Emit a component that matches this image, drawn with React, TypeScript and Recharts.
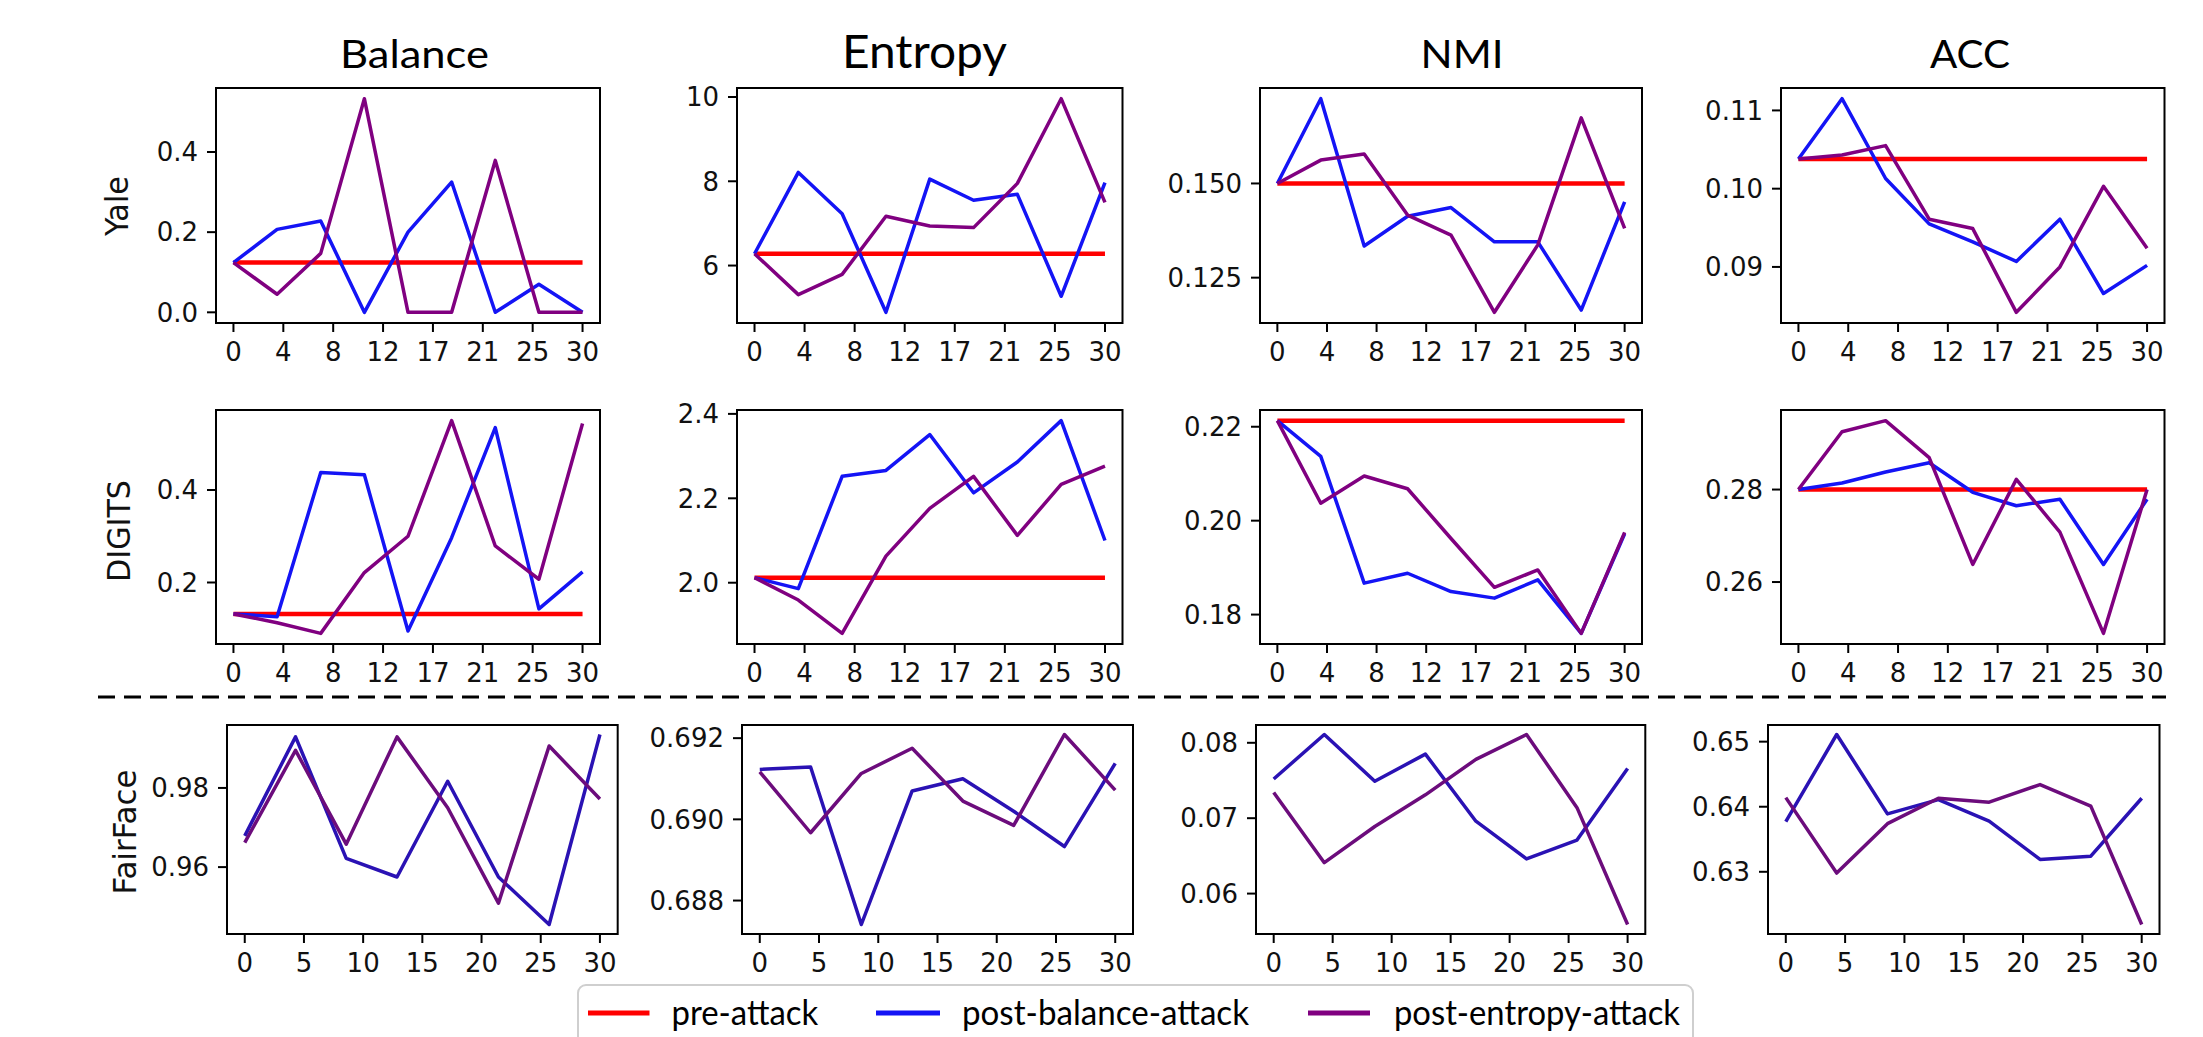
import { Line, LineChart, ReferenceArea, XAxis, YAxis } from 'recharts'

// epochs: rows 1-2 have 9 checkpoints, FairFace has 8
const epochs9 = [0, 3.75, 7.5, 11.25, 15, 18.75, 22.5, 26.25, 30]
const epochs8 = [0, 4.29, 8.57, 12.86, 17.14, 21.43, 25.71, 30]

const xTicks9 = [0, 4.2857, 8.5714, 12.857, 17.143, 21.429, 25.714, 30]
const xLabels9 = ['0', '4', '8', '12', '17', '21', '25', '30']
const xTicks8 = [0, 5, 10, 15, 20, 25, 30]
const xLabels8 = ['0', '5', '10', '15', '20', '25', '30']

const columns = ['Balance', 'Entropy', 'NMI', 'ACC']
const rowNames = ['Yale', 'DIGITS', 'FairFace']
const legendLabels = ['pre-attack', 'post-balance-attack', 'post-entropy-attack']

// Yale
const yaleBalancePre = [0.124, 0.124, 0.124, 0.124, 0.124, 0.124, 0.124, 0.124, 0.124]
const yaleBalanceBal = [0.124, 0.207, 0.228, 0.0, 0.2, 0.325, 0.0, 0.07, 0.0]
const yaleBalanceEnt = [0.124, 0.045, 0.147, 0.533, 0.0, 0.0, 0.379, 0.0, 0.0]
const yaleEntropyPre = [6.28, 6.28, 6.28, 6.28, 6.28, 6.28, 6.28, 6.28, 6.28]
const yaleEntropyBal = [6.28, 8.21, 7.23, 4.89, 8.05, 7.55, 7.69, 5.27, 7.97]
const yaleEntropyEnt = [6.28, 5.31, 5.79, 7.17, 6.94, 6.9, 7.95, 9.96, 7.5]
const yaleNmiPre = [0.15, 0.15, 0.15, 0.15, 0.15, 0.15, 0.15, 0.15, 0.15]
const yaleNmiBal = [0.15, 0.1725, 0.1334, 0.1413, 0.1436, 0.1345, 0.1345, 0.1164, 0.1451]
const yaleNmiEnt = [0.15, 0.1562, 0.1578, 0.1416, 0.1363, 0.1158, 0.1337, 0.1674, 0.1381]
const yaleAccPre = [0.1038, 0.1038, 0.1038, 0.1038, 0.1038, 0.1038, 0.1038, 0.1038, 0.1038]
const yaleAccBal = [0.1038, 0.1115, 0.1013, 0.0955, 0.0932, 0.0907, 0.0961, 0.0866, 0.0902]
const yaleAccEnt = [0.1038, 0.1043, 0.1055, 0.0961, 0.0949, 0.0842, 0.09, 0.1003, 0.0924]

// DIGITS
const digitsBalancePre = [0.132, 0.132, 0.132, 0.132, 0.132, 0.132, 0.132, 0.132, 0.132]
const digitsBalanceBal = [0.132, 0.126, 0.438, 0.433, 0.095, 0.297, 0.535, 0.143, 0.223]
const digitsBalanceEnt = [0.132, 0.113, 0.09, 0.2215, 0.3, 0.55, 0.279, 0.207, 0.544]
const digitsEntropyPre = [2.012, 2.012, 2.012, 2.012, 2.012, 2.012, 2.012, 2.012, 2.012]
const digitsEntropyBal = [2.012, 1.986, 2.252, 2.266, 2.351, 2.213, 2.286, 2.384, 2.1]
const digitsEntropyEnt = [2.012, 1.959, 1.88, 2.063, 2.176, 2.252, 2.112, 2.233, 2.276]
const digitsNmiPre = [0.2213, 0.2213, 0.2213, 0.2213, 0.2213, 0.2213, 0.2213, 0.2213, 0.2213]
const digitsNmiBal = [0.2213, 0.2137, 0.1867, 0.1888, 0.1849, 0.1835, 0.1874, 0.176, 0.1972]
const digitsNmiEnt = [0.2213, 0.2037, 0.2095, 0.2068, 0.1962, 0.1858, 0.1895, 0.176, 0.1975]
const digitsAccPre = [0.28, 0.28, 0.28, 0.28, 0.28, 0.28, 0.28, 0.28, 0.28]
const digitsAccBal = [0.28, 0.2814, 0.2838, 0.2858, 0.2794, 0.2765, 0.2779, 0.2638, 0.2779]
const digitsAccEnt = [0.28, 0.2925, 0.2949, 0.2869, 0.2638, 0.2822, 0.2708, 0.2489, 0.28]

// FairFace (no pre-attack line)
const fairBalanceBal = [0.9679, 0.9929, 0.9622, 0.9575, 0.9817, 0.9575, 0.9455, 0.9935]
const fairBalanceEnt = [0.9662, 0.9895, 0.9658, 0.9929, 0.975, 0.9509, 0.9906, 0.9772]
const fairEntropyBal = [0.69123, 0.69129, 0.68741, 0.6907, 0.691, 0.6902, 0.68933, 0.69138]
const fairEntropyEnt = [0.69117, 0.68967, 0.69113, 0.69175, 0.69045, 0.68985, 0.69209, 0.69072]
const fairNmiBal = [0.0752, 0.0811, 0.0749, 0.0785, 0.0696, 0.0646, 0.0671, 0.0766]
const fairNmiEnt = [0.0734, 0.0641, 0.0689, 0.0731, 0.0778, 0.0811, 0.0714, 0.0559]
const fairAccBal = [0.6377, 0.6511, 0.6389, 0.6411, 0.6378, 0.6319, 0.6324, 0.6413]
const fairAccEnt = [0.6414, 0.6298, 0.6374, 0.6413, 0.6407, 0.6434, 0.6401, 0.6219]

// y ticks
const yTicks = [
  [[0, 0.2, 0.4], [6, 8, 10], [0.125, 0.15], [0.09, 0.1, 0.11]],
  [[0.2, 0.4], [2.0, 2.2, 2.4], [0.18, 0.2, 0.22], [0.26, 0.28]],
  [[0.96, 0.98], [0.688, 0.69, 0.692], [0.06, 0.07, 0.08], [0.63, 0.64, 0.65]],
]
const yLabels = [
  [['0.0', '0.2', '0.4'], ['6', '8', '10'], ['0.125', '0.150'], ['0.09', '0.10', '0.11']],
  [['0.2', '0.4'], ['2.0', '2.2', '2.4'], ['0.18', '0.20', '0.22'], ['0.26', '0.28']],
  [['0.96', '0.98'], ['0.688', '0.690', '0.692'], ['0.06', '0.07', '0.08'], ['0.63', '0.64', '0.65']],
]

const series = [
  [
    [yaleBalancePre, yaleBalanceBal, yaleBalanceEnt],
    [yaleEntropyPre, yaleEntropyBal, yaleEntropyEnt],
    [yaleNmiPre, yaleNmiBal, yaleNmiEnt],
    [yaleAccPre, yaleAccBal, yaleAccEnt],
  ],
  [
    [digitsBalancePre, digitsBalanceBal, digitsBalanceEnt],
    [digitsEntropyPre, digitsEntropyBal, digitsEntropyEnt],
    [digitsNmiPre, digitsNmiBal, digitsNmiEnt],
    [digitsAccPre, digitsAccBal, digitsAccEnt],
  ],
  [
    [null, fairBalanceBal, fairBalanceEnt],
    [null, fairEntropyBal, fairEntropyEnt],
    [null, fairNmiBal, fairNmiEnt],
    [null, fairAccBal, fairAccEnt],
  ],
]

// layout (page pixels)
const colBoxes = [
  [[216, 600], [737, 1122.5], [1260, 1642], [1780.5, 2164]],
  [[216, 600], [737, 1122.5], [1260, 1642], [1780.5, 2164]],
  [[226.6, 617.3], [741.7, 1132.7], [1255.7, 1645], [1767.8, 2159.3]],
]
const rowBoxes = [[88, 323], [409.5, 643.5], [725, 934]]

const RED = '#ff0000'
const BLUE = '#1414f5'
const PURPLE = '#800080'
const BLUE_DARK = '#2a12b4'
const PURPLE_DARK = '#6c0c7c'

const YW = 110
const XH = 60
const PAD = 18
const X_DOMAIN = [-1.5, 31.5]
const tickFont = { fill: '#111', fontSize: 26, fontFamily: 'DejaVu Sans' }

function Panel({
  x0, x1, y0, y1, xs, xTicks, xLabels, ticks, labels, pre, bal, ent, blue, purple,
}: {
  x0: number; x1: number; y0: number; y1: number
  xs: number[]; xTicks: number[]; xLabels: string[]
  ticks: number[]; labels: string[]
  pre: number[] | null; bal: number[]; ent: number[]
  blue: string; purple: string
}) {
  const w = x1 - x0
  const h = y1 - y0
  const data = xs.map((x, i) => ({ x, pre: pre ? pre[i] : undefined, bal: bal[i], ent: ent[i] }))
  const all = [...(pre ?? []), ...bal, ...ent]
  const lo = Math.min(...all)
  const hi = Math.max(...all)
  const m = (hi - lo) * 0.05
  const domain = [lo - m, hi + m]

  return (
    <div style={{ position: 'absolute', left: x0 - YW, top: y0 - PAD }}>
      <LineChart
        width={w + YW + PAD}
        height={h + PAD + XH}
        data={data}
        margin={{ top: PAD, right: PAD, left: 0, bottom: 0 }}
      >
        <XAxis
          dataKey="x"
          type="number"
          domain={X_DOMAIN}
          ticks={xTicks}
          interval={0}
          tickFormatter={(_v, i) => xLabels[i]}
          height={XH}
          tickSize={9}
          tickMargin={11}
          stroke="#000"
          strokeWidth={2}
          tick={tickFont}
        />
        <YAxis
          type="number"
          domain={domain}
          ticks={ticks}
          interval={0}
          tickFormatter={(_v, i) => labels[i]}
          width={YW}
          tickSize={9}
          tickMargin={9}
          stroke="#000"
          strokeWidth={2}
          tick={tickFont}
        />
        {/* axes frame (top/right spines) */}
        <ReferenceArea
          x1={X_DOMAIN[0]}
          x2={X_DOMAIN[1]}
          y1={domain[0]}
          y2={domain[1]}
          fill="none"
          fillOpacity={0}
          stroke="#000"
          strokeWidth={2}
          ifOverflow="visible"
        />
        {pre && (
          <Line dataKey="pre" stroke={RED} strokeWidth={4.5} dot={false} isAnimationActive={false} />
        )}
        <Line dataKey="bal" stroke={blue} strokeWidth={3.5} strokeLinejoin="round" dot={false} isAnimationActive={false} />
        <Line dataKey="ent" stroke={purple} strokeWidth={3.5} strokeLinejoin="round" dot={false} isAnimationActive={false} />
      </LineChart>
    </div>
  )
}

const titleSpecs = [
  { x: 340, len: 149, size: 39 },
  { x: 842, len: 165, size: 46 },
  { x: 1420.6, len: 83, size: 39 },
  { x: 1930, len: 80, size: 39 },
]
const rowLabelSpecs = [
  { cx: 117, cy: 206, len: 60 },
  { cx: 119, cy: 531, len: 102 },
  { cx: 125, cy: 832, len: 125 },
]
const legendSpecs = [
  { lx: 588, lx2: 649.5, tx: 671.5, len: 146.7, color: RED },
  { lx: 876, lx2: 940, tx: 962, len: 287, color: BLUE },
  { lx: 1308, lx2: 1370, tx: 1394, len: 286, color: PURPLE },
]

export default function App() {
  return (
    <div style={{ position: 'absolute', left: 0, top: 0, width: 2203, height: 1037, background: '#fff', overflow: 'hidden' }}>
      {rowBoxes.map(([y0, y1], r) =>
        colBoxes[r].map(([x0, x1], c) => {
          const [pre, bal, ent] = series[r][c]
          const last = r === 2
          return (
            <Panel
              key={`${r}-${c}`}
              x0={x0}
              x1={x1}
              y0={y0}
              y1={y1}
              xs={last ? epochs8 : epochs9}
              xTicks={last ? xTicks8 : xTicks9}
              xLabels={last ? xLabels8 : xLabels9}
              ticks={yTicks[r][c]}
              labels={yLabels[r][c]}
              pre={pre}
              bal={bal as number[]}
              ent={ent as number[]}
              blue={last ? BLUE_DARK : BLUE}
              purple={last ? PURPLE_DARK : PURPLE}
            />
          )
        }),
      )}
      <svg width={2203} height={1037} style={{ position: 'absolute', left: 0, top: 0, pointerEvents: 'none' }}>
        {columns.map((t, i) => (
          <text
            key={t}
            x={titleSpecs[i].x}
            y={68}
            fontFamily="Lato"
            fontSize={titleSpecs[i].size}
            fill="#000"
            textLength={titleSpecs[i].len}
            lengthAdjust="spacingAndGlyphs"
          >
            {t}
          </text>
        ))}
        {rowNames.map((n, i) => {
          const s = rowLabelSpecs[i]
          return (
            <text
              key={n}
              x={s.cx}
              y={s.cy}
              transform={`rotate(-90 ${s.cx} ${s.cy})`}
              textAnchor="middle"
              dominantBaseline="central"
              fontFamily="DejaVu Sans"
              fontSize={32}
              fill="#111"
              textLength={s.len}
              lengthAdjust="spacingAndGlyphs"
            >
              {n}
            </text>
          )
        })}
        <line x1={98} x2={2166} y1={697} y2={697} stroke="#000" strokeWidth={3} strokeDasharray="17 9" />
        <rect x={578} y={985} width={1115} height={90} rx={8} fill="#fff" stroke="#cfcfcf" strokeWidth={2} />
        {legendLabels.map((l, i) => {
          const s = legendSpecs[i]
          return (
            <g key={l}>
              <line x1={s.lx} x2={s.lx2} y1={1013} y2={1013} stroke={s.color} strokeWidth={5} />
              <text
                x={s.tx}
                y={1025}
                fontFamily="Lato"
                fontSize={34}
                fill="#000"
                textLength={s.len}
                lengthAdjust="spacingAndGlyphs"
              >
                {l}
              </text>
            </g>
          )
        })}
      </svg>
    </div>
  )
}
